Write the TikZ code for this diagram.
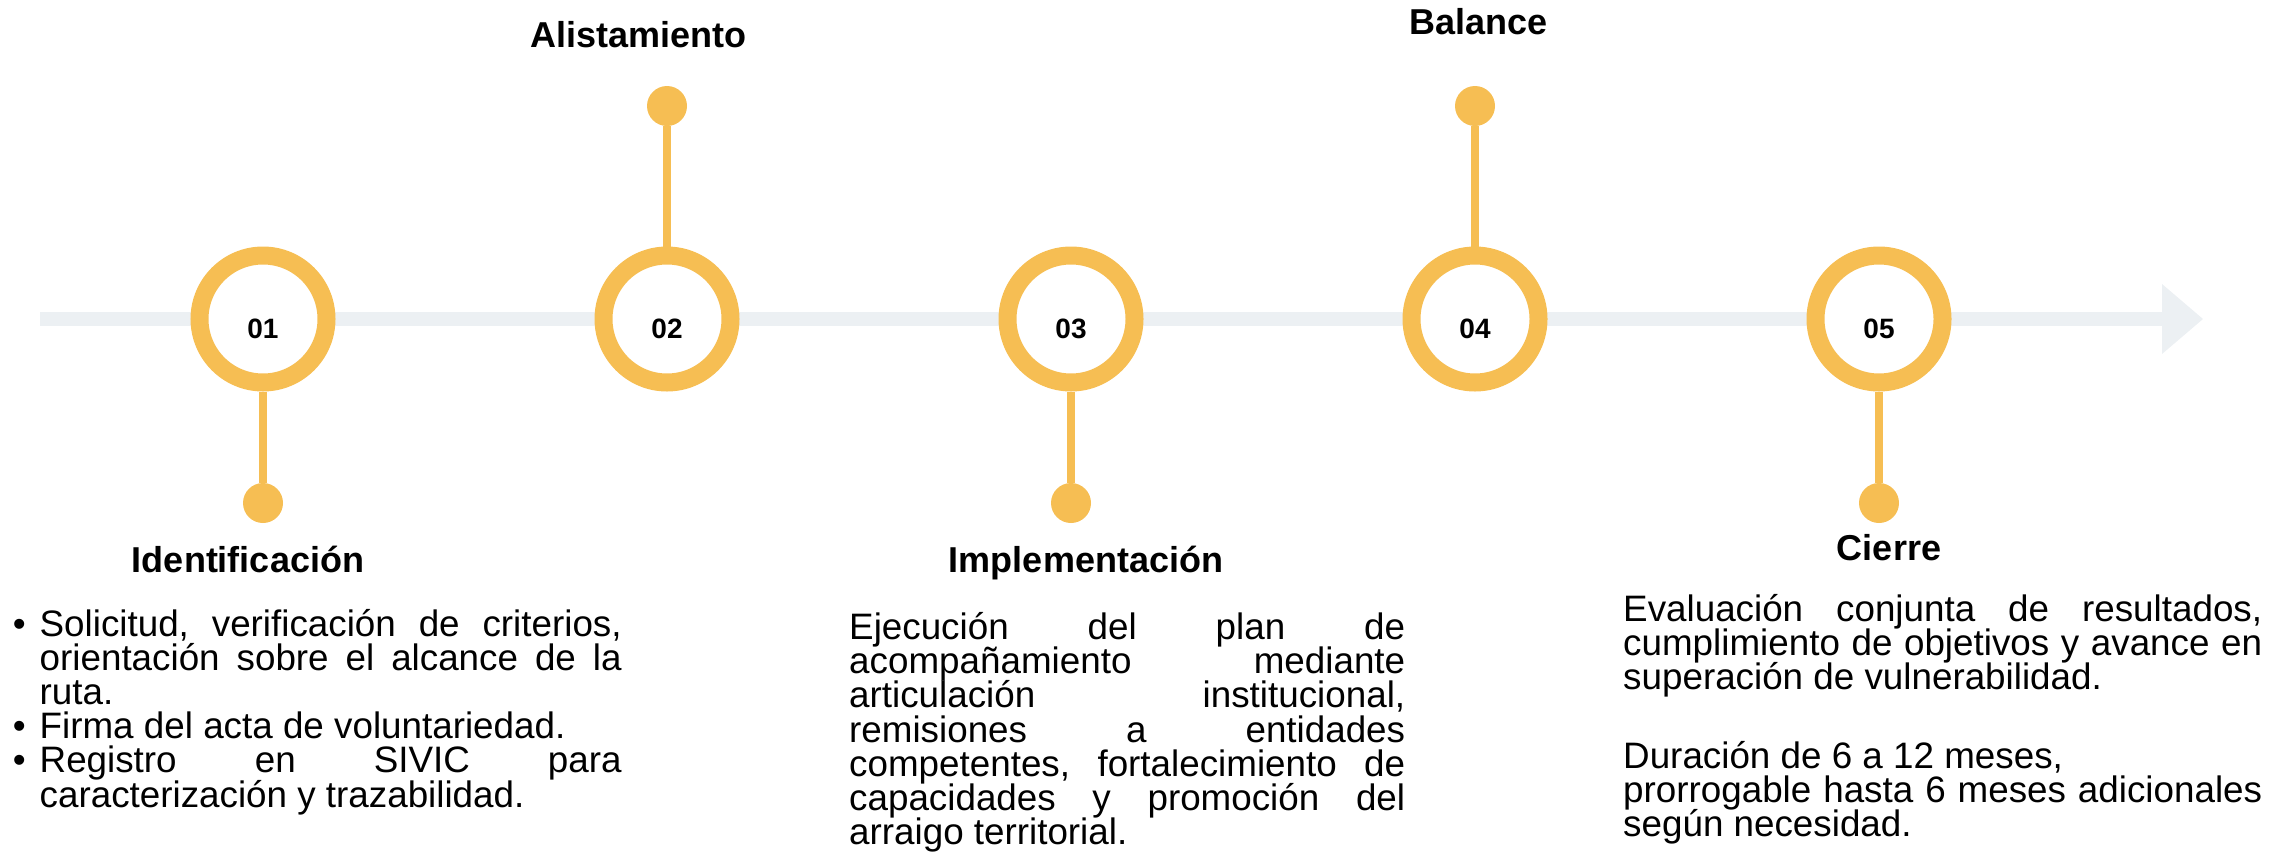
\documentclass[tikz,border=0pt]{standalone}
\usepackage{fontspec}
\setmainfont{Liberation Sans}
\definecolor{ringc}{RGB}{246,190,83}
\definecolor{barc}{RGB}{236,240,243}
\newcommand{\jline}[1]{\makebox[\linewidth][s]{#1}}
\newcommand{\bul}{\leavevmode\llap{•\hspace{14pt}}}
\newcommand{\bodyfont}{\fontsize{36.8}{34.2}\selectfont\setlength{\lineskiplimit}{-100pt}\frenchspacing}
\newcommand{\bodybox}[2]{\parbox[t]{#1}{\bodyfont\setlength{\lineskiplimit}{-100pt}\frenchspacing #2}}
\tikzset{
  ringnode/.style={circle, draw=ringc, line width=18pt, fill=white, minimum size=127pt, inner sep=0pt},
  dotnode/.style={circle, fill=ringc, minimum size=40pt, inner sep=0pt},
  stemline/.style={draw=ringc, line width=8pt},
  barline/.style={draw=barc, line width=14pt},
  numlabel/.style={font=\fontsize{28}{30}\selectfont\bfseries, inner sep=0pt, anchor=base},
  titlelabel/.style={font=\fontsize{36}{40}\selectfont\bfseries, inner sep=0pt, anchor=base},
  bodytext/.style={font=\bodyfont, inner sep=0pt, anchor=base west},
}
\begin{document}
\begin{tikzpicture}[x=1pt,y=-1pt]
\useasboundingbox (0,0) rectangle (2292,852);
% timeline
\coordinate (tstart) at (40,319);
\coordinate (tend) at (2162,319);
\draw[barline] (tstart) -- (tend);
\fill[barc] (2162,284) -- (2203,319) -- (2162,354) -- cycle;
% circles
\node[ringnode] (c1) at (263,319) {};
\node[ringnode] (c2) at (667,319) {};
\node[ringnode] (c3) at (1071,319) {};
\node[ringnode] (c4) at (1475,319) {};
\node[ringnode] (c5) at (1879,319) {};
% dots
\node[dotnode] (d1) at (263,503) {};
\node[dotnode] (d2) at (667,106) {};
\node[dotnode] (d3) at (1071,503) {};
\node[dotnode] (d4) at (1475,106) {};
\node[dotnode] (d5) at (1879,503) {};
% stems
\draw[stemline] (c1) -- (d1);
\draw[stemline] (c2) -- (d2);
\draw[stemline] (c3) -- (d3);
\draw[stemline] (c4) -- (d4);
\draw[stemline] (c5) -- (d5);
% numbers
\node[numlabel] (n1) at (263,338) {01};
\node[numlabel] (n2) at (667,338) {02};
\node[numlabel] (n3) at (1071,338) {03};
\node[numlabel] (n4) at (1475,338) {04};
\node[numlabel] (n5) at (1879,338) {05};
% titles
\node[titlelabel] (t1) at (248,572) {Identificación};
\node[titlelabel] (t2) at (638.5,47) {Alistamiento};
\node[titlelabel] (t3) at (1086,572) {Implementación};
\node[titlelabel] (t4) at (1478.5,34) {Balance};
\node[titlelabel] (t5) at (1889,560) {Cierre};
% bodies
\node[bodytext] (b1) at (39.5,636) {\bodybox{582pt}{%
\jline{\bul Solicitud, verificación de criterios,}\\
\jline{orientación sobre el alcance de la}\\
ruta.\\
\bul Firma del acta de voluntariedad.\\
\jline{\bul Registro en SIVIC para}\\
caracterización y trazabilidad.}};
\node[bodytext] (b3) at (849,639.5) {\bodybox{556pt}{%
\jline{Ejecución del plan de}\\
\jline{acompañamiento mediante}\\
\jline{articulación institucional,}\\
\jline{remisiones a entidades}\\
\jline{competentes, fortalecimiento de}\\
\jline{capacidades y promoción del}\\
arraigo territorial.}};
\node[bodytext] (b5) at (1623,621) {\bodybox{639pt}{%
\jline{Evaluación conjunta de resultados,}\\
\jline{cumplimiento de objetivos y avance en}\\
superación de vulnerabilidad.\\[44.5pt]
Duración de 6 a 12 meses,\\
\jline{prorrogable hasta 6 meses adicionales}\\
según necesidad.}};
\end{tikzpicture}
\end{document}
